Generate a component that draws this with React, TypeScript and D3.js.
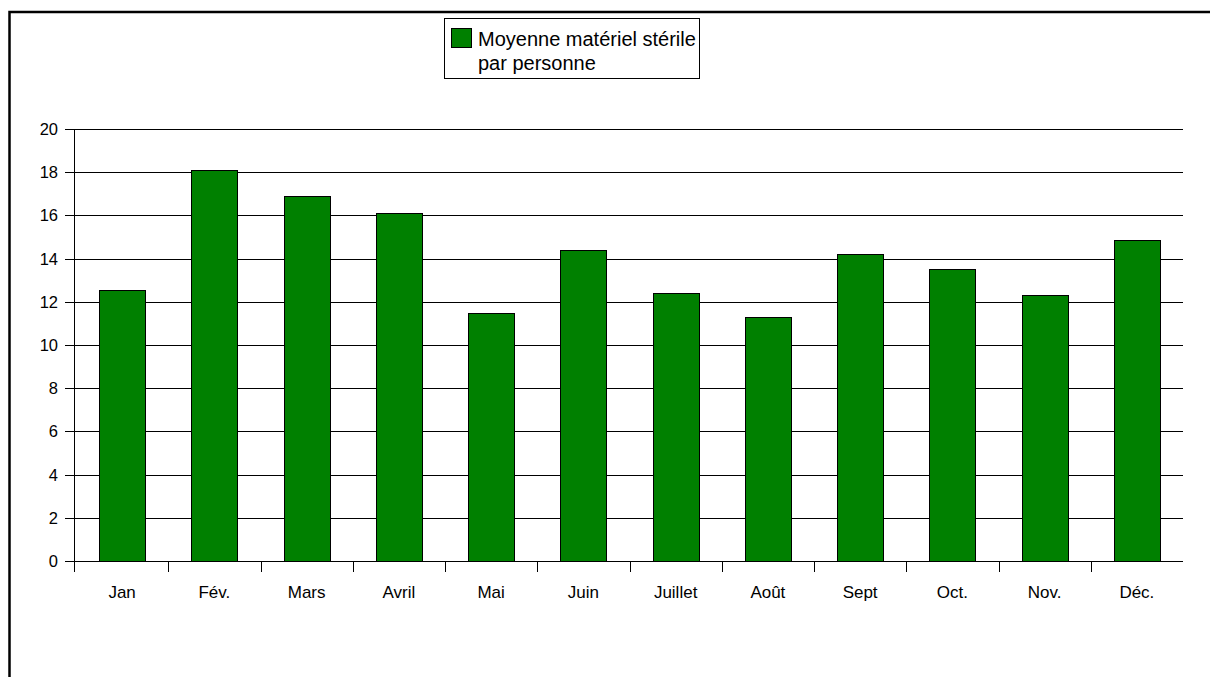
import { useEffect, useRef } from "react";
import * as d3 from "d3";

const months = ["Jan", "Fév.", "Mars", "Avril", "Mai", "Juin", "Juillet", "Août", "Sept", "Oct.", "Nov.", "Déc."];
const values = [12.55, 18.1, 16.9, 16.1, 11.5, 14.4, 12.4, 11.3, 14.2, 13.5, 12.3, 14.85];
const yTicks = [0, 2, 4, 6, 8, 10, 12, 14, 16, 18, 20];
const legendLines = ["Moyenne matériel stérile", "par personne"];

function App() {
  const svgRef = useRef<SVGSVGElement | null>(null);
  const width = 1210;
  const height = 677;
  const left = 74;
  const right = 1183;
  const top = 129;
  const bottom = 561;
  const font = "Liberation Sans, Arial, sans-serif";

  useEffect(() => {
    const svg = d3.select(svgRef.current);
    svg.selectAll("*").remove();

    // categories start a bit right of the value axis, like the original
    const x = d3.scaleBand().domain(months).range([left + 2, right]).paddingInner(0).paddingOuter(0);
    const y = d3.scaleLinear().domain([0, 20]).range([bottom, top]);

    // frame
    svg
      .append("path")
      .attr("d", `M9.5,${height + 5} L9.5,12 L${width + 5},12`)
      .attr("fill", "none")
      .attr("stroke", "black")
      .attr("stroke-width", 2.5);

    // grid lines
    svg
      .append("g")
      .selectAll("line")
      .data(yTicks)
      .join("line")
      .attr("x1", left - 9)
      .attr("x2", right)
      .attr("y1", (d) => Math.round(y(d)) + 0.5)
      .attr("y2", (d) => Math.round(y(d)) + 0.5)
      .attr("stroke", "black")
      .attr("stroke-width", 1);

    svg
      .append("g")
      .selectAll("text")
      .data(yTicks)
      .join("text")
      .attr("x", left - 16)
      .attr("y", (d) => y(d))
      .attr("dy", "0.36em")
      .attr("text-anchor", "end")
      .attr("font-family", font)
      .attr("font-size", 16.5)
      .text((d) => d);

    // bars
    const bw = x.bandwidth() * 0.5;
    svg
      .append("g")
      .selectAll("rect")
      .data(values)
      .join("rect")
      .attr("x", (d, i) => Math.round(x(months[i])! + (x.bandwidth() - bw) / 2) + 0.5)
      .attr("y", (d) => Math.round(y(d)) + 0.5)
      .attr("width", Math.round(bw))
      .attr("height", (d) => Math.round(bottom) - Math.round(y(d)))
      .attr("fill", "#008000")
      .attr("stroke", "black")
      .attr("stroke-width", 1);

    // axes
    svg
      .append("line")
      .attr("x1", left + 0.5)
      .attr("x2", left + 0.5)
      .attr("y1", top)
      .attr("y2", bottom + 11)
      .attr("stroke", "black");

    svg
      .append("line")
      .attr("x1", left)
      .attr("x2", right)
      .attr("y1", bottom + 0.5)
      .attr("y2", bottom + 0.5)
      .attr("stroke", "black");

    const boundaries = months.map((m) => x(m)! + x.bandwidth()).slice(0, months.length - 1);
    svg
      .append("g")
      .selectAll("line")
      .data(boundaries)
      .join("line")
      .attr("x1", (d) => Math.round(d) + 0.5)
      .attr("x2", (d) => Math.round(d) + 0.5)
      .attr("y1", bottom)
      .attr("y2", bottom + 11)
      .attr("stroke", "black");

    svg
      .append("g")
      .selectAll("text")
      .data(months)
      .join("text")
      .attr("x", (d) => x(d)! + x.bandwidth() / 2)
      .attr("y", bottom + 37)
      .attr("text-anchor", "middle")
      .attr("font-family", font)
      .attr("font-size", 17)
      .text((d) => d);

    // legend
    const lg = svg.append("g");
    lg.append("rect")
      .attr("x", 444.5)
      .attr("y", 18.5)
      .attr("width", 255)
      .attr("height", 60)
      .attr("fill", "white")
      .attr("stroke", "black");
    lg.append("rect")
      .attr("x", 451.5)
      .attr("y", 28.5)
      .attr("width", 20)
      .attr("height", 19)
      .attr("fill", "#008000")
      .attr("stroke", "black");
    lg.selectAll("text.l")
      .data(legendLines)
      .join("text")
      .attr("class", "l")
      .attr("x", 478)
      .attr("y", (d, i) => 46 + i * 24)
      .attr("font-family", font)
      .attr("font-size", 20)
      .text((d) => d);
  }, []);

  return (
    <svg
      ref={svgRef}
      width={width}
      height={height}
      style={{ position: "absolute", left: 0, top: 0, background: "white" }}
    ></svg>
  );
}

export default App;
